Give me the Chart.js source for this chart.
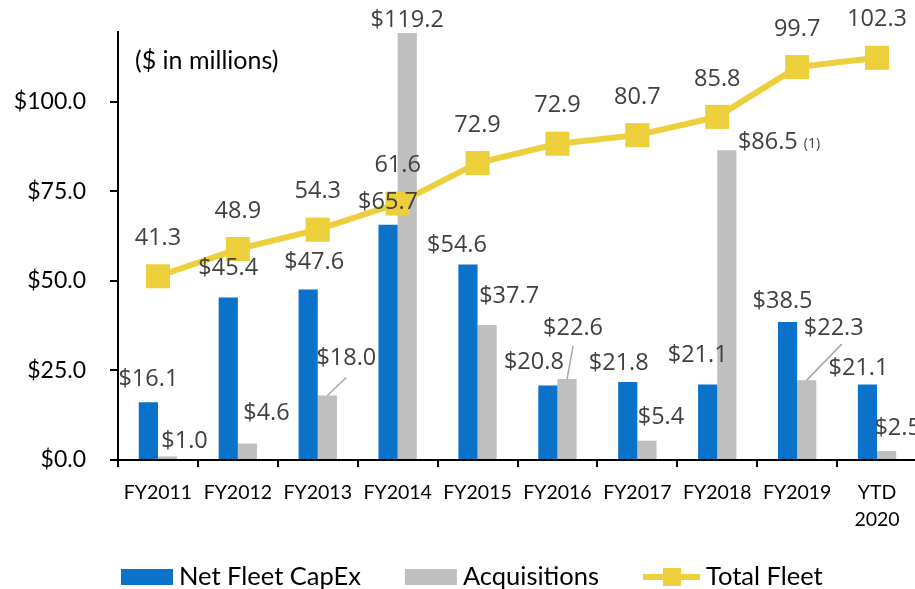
<!DOCTYPE html>
<html>
<head>
<meta charset="utf-8">
<script src="https://cdn.jsdelivr.net/npm/chart.js@4.4.1/dist/chart.umd.min.js"></script>
<style>
  html, body { margin: 0; padding: 0; background: #fff; }
  #wrap { width: 915px; height: 589px; overflow: hidden; }
</style>
</head>
<body>
<div id="wrap"><canvas id="myChart" width="917" height="589"></canvas></div>
<script>
const ctx = document.getElementById('myChart')

// categories
const years = ['FY2011', 'FY2012', 'FY2013', 'FY2014', 'FY2015', 'FY2016', 'FY2017', 'FY2018', 'FY2019', ['YTD', '2020']]

// series ($ in millions)
const netFleetCapex = [16.1, 45.4, 47.6, 65.7, 54.6, 20.8, 21.8, 21.1, 38.5, 21.1]
const acquisitions = [1.0, 4.6, 18.0, 119.2, 37.7, 22.6, 5.4, 86.5, 22.3, 2.5]
// total fleet is plotted on its own (hidden) axis
const totalFleet = [41.3, 48.9, 54.3, 61.6, 72.9, 78.3, 80.7, 85.8, 99.7, 102.3]
const totalFleetText = ['41.3', '48.9', '54.3', '61.6', '72.9', '72.9', '80.7', '85.8', '99.7', '102.3']

const yTicks = [0, 25, 50, 75, 100]

const BLUE = '#0B72C9'
const GRAY = '#BFBFBF'
const YELLOW = '#EDCF3B'
const LABEL = '#404040'

// label nudges [dx, dy] from the top centre of each bar
const capexNudge = [[0, -23], [0, -29], [6, -27], [0, -22], [-11, -19], [-14, -23], [-9, -19], [-10, -29], [-5, -21], [-9, -16]]
const acqNudge = [[17, -15], [19, -30], [19, -37], [0, -13], [22, -29], [6, -51], [14, -23], [41, -8], [27, -52], [11, -23]]
// leader line end relative to label centre (null = none)
const acqLeader = [null, null, [0, 19], null, null, [0, 18], null, null, [8, 16], null]

const labelPlugin = {
  id: 'labels',
  afterDatasetsDraw(chart) {
    const c = chart.ctx
    c.save()
    c.font = '23.5px "Open Sans"'
    c.fillStyle = LABEL
    c.textAlign = 'center'
    c.textBaseline = 'middle'

    const m0 = chart.getDatasetMeta(0)
    m0.data.forEach((bar, i) => {
      c.fillText('$' + netFleetCapex[i].toFixed(1), bar.x + capexNudge[i][0], bar.y + capexNudge[i][1])
    })

    const m1 = chart.getDatasetMeta(1)
    m1.data.forEach((bar, i) => {
      const lx = bar.x + acqNudge[i][0]
      const ly = bar.y + acqNudge[i][1]
      if (acqLeader[i]) {
        c.strokeStyle = '#A6A6A6'
        c.lineWidth = 1.5
        c.beginPath()
        c.moveTo(bar.x, bar.y)
        c.lineTo(lx + acqLeader[i][0], ly + acqLeader[i][1])
        c.stroke()
      }
      const txt = '$' + acquisitions[i].toFixed(1)
      c.fillText(txt, lx, ly)
      if (i === 7) {
        // footnote marker
        const w = c.measureText(txt).width
        c.save()
        c.font = '14px "Open Sans"'
        c.textAlign = 'left'
        c.fillText('(1)', lx + w / 2 + 6, ly + 2)
        c.restore()
      }
    })

    const m2 = chart.getDatasetMeta(2)
    m2.data.forEach((pt, i) => {
      c.fillText(totalFleetText[i], pt.x, pt.y - 38)
    })

    c.fillStyle = '#000'
    c.textAlign = 'left'
    c.font = '25px Lato'
    c.fillText('($ in millions)', 135, 61)
    c.restore()
  },
  afterDraw(chart) {
    // legend
    const c = chart.ctx
    c.save()
    c.font = '25.5px Lato'
    c.textBaseline = 'middle'
    const y = 577
    let x = 121
    const items = [
      {text: 'Net Fleet CapEx', kind: 'box', color: BLUE},
      {text: 'Acquisitions', kind: 'box', color: GRAY},
      {text: 'Total Fleet', kind: 'line', color: YELLOW}
    ]
    items.forEach(it => {
      if (it.kind === 'box') {
        c.fillStyle = it.color
        c.fillRect(x, y - 8, 52, 16)
        x += 58
      } else {
        c.strokeStyle = it.color
        c.lineWidth = 6
        c.beginPath()
        c.moveTo(x, y)
        c.lineTo(x + 57, y)
        c.stroke()
        c.fillStyle = it.color
        c.fillRect(x + 20, y - 9, 18, 18)
        x += 63
      }
      c.fillStyle = '#000'
      c.fillText(it.text, x, y)
      x += c.measureText(it.text).width + 44
    })
    c.restore()
  }
}

new Chart(ctx, {
  type: 'bar',
  data: {
    labels: years,
    datasets: [
      {
        label: 'Net Fleet CapEx',
        data: netFleetCapex,
        backgroundColor: BLUE,
        yAxisID: 'y',
        order: 2
      },
      {
        label: 'Acquisitions',
        data: acquisitions,
        backgroundColor: GRAY,
        yAxisID: 'y',
        order: 2
      },
      {
        type: 'line',
        label: 'Total Fleet',
        data: totalFleet,
        borderColor: YELLOW,
        backgroundColor: YELLOW,
        borderWidth: 6,
        pointStyle: 'rect',
        pointRadius: 17,
        pointBorderWidth: 0,
        yAxisID: 'y2',
        order: 1
      }
    ]
  },
  options: {
    responsive: false,
    animation: false,
    devicePixelRatio: 1,
    layout: {autoPadding: false, padding: {top: 32, bottom: 60, left: 0, right: 0}},
    datasets: {
      bar: {barPercentage: 1, categoryPercentage: 0.48}
    },
    plugins: {
      legend: {display: false},
      tooltip: {enabled: false}
    },
    scales: {
      x: {
        grid: {display: true, drawOnChartArea: false, drawTicks: true, tickLength: 7, color: '#000', lineWidth: 2, offset: true},
        border: {color: '#000', width: 2},
        ticks: {color: '#000', font: {family: 'Lato', size: 19.5, lineHeight: 1.35}, padding: 13, maxRotation: 0, autoSkip: false},
        afterFit: s => { s.height = 69; s.paddingLeft = 0; s.paddingRight = 0 }
      },
      y: {
        min: 0,
        max: 119.5,
        afterBuildTicks: s => { s.ticks = yTicks.map(v => ({value: v})) },
        grid: {display: true, drawOnChartArea: false, drawTicks: true, tickLength: 8, color: '#000', lineWidth: 2},
        border: {color: '#000', width: 2},
        ticks: {
          color: '#000',
          font: {family: 'Lato', size: 23},
          padding: 24,
          callback: v => '$' + Number(v).toFixed(1)
        },
        afterFit: s => { s.width = 118; s.paddingTop = 0; s.paddingBottom = 0 }
      },
      y2: {
        display: false,
        min: -10,
        max: 109.5
      }
    }
  },
  plugins: [labelPlugin]
})
</script>
</body>
</html>
